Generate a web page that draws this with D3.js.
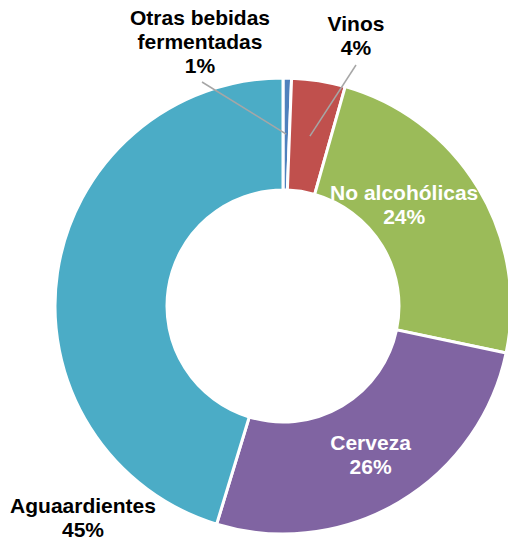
<!DOCTYPE html>
<html>
<head>
<meta charset="utf-8">
<script src="https://cdn.jsdelivr.net/npm/d3@7"></script>
<style>
  body { margin: 0; background: #fff; }
  text { font-family: "Liberation Sans", Arial, sans-serif; font-weight: bold; font-size: 21px; }
</style>
</head>
<body>
<script>
w = 508;
h = 540;

// data
categories = ['Otras bebidas\nfermentadas', 'Vinos', 'No alcohólicas', 'Cerveza', 'Aguaardientes'];
shares = [0.6, 3.8, 23.9, 26.4, 45.3];
pctLabels = ['1%', '4%', '24%', '26%', '45%'];

colors = ['#4f81bd', '#c0504d', '#9bbb59', '#8064a2', '#4bacc6'];

cx = 283;
cy = 306;
outerR = 228;
innerR = 116;

// where each label goes: outside ones get a leader line, inside ones sit on the centroid
labelLayout = [
  { out: true, x: 200, y: 25, lx: 202, ly: 82 },
  { out: true, x: 356, y: 31, lx: 356, ly: 65 },
  { out: false, dx: -26, dy: -13 },
  { out: false, dx: 0, dy: 0 },
  { out: true, x: 83, y: 513 }
];

let data = categories.map((c, i) => ({ name: c, value: shares[i], pct: pctLabels[i], i: i }));

let pie = d3.pie()
  .sort(null)
  .value(d => d.value);

let arc = d3.arc()
  .innerRadius(innerR)
  .outerRadius(outerR);

svg = d3.select('body')
  .append('svg')
  .attr('width', w)
  .attr('height', h);

let g = svg.append('g')
  .attr('transform', `translate(${cx}, ${cy})`);

let arcs = pie(data);

g.selectAll('path')
  .data(arcs)
  .enter()
  .append('path')
  .attr('d', arc)
  .attr('fill', d => colors[d.data.i])
  .attr('stroke', '#fff')
  .attr('stroke-width', 3);

// leader lines
arcs.forEach(d => {
  let L = labelLayout[d.data.i];
  if (!L.out || L.lx === undefined) return;
  let c = arc.centroid(d);
  svg.append('line')
    .attr('x1', cx + c[0])
    .attr('y1', cy + c[1])
    .attr('x2', L.lx)
    .attr('y2', L.ly)
    .attr('stroke', '#a6a6a6')
    .attr('stroke-width', 1.5);
});

// labels
arcs.forEach(d => {
  let L = labelLayout[d.data.i];
  let lines = d.data.name.split('\n').concat([d.data.pct]);
  let x, y, fill;
  if (L.out) {
    x = L.x;
    y = L.y;
    fill = '#000';
  } else {
    let c = arc.centroid(d);
    x = cx + c[0] + L.dx;
    y = cy + c[1] - 4 + L.dy;
    fill = '#fff';
  }
  let t = svg.append('text')
    .attr('text-anchor', 'middle')
    .attr('fill', fill);
  lines.forEach((s, k) => {
    t.append('tspan')
      .attr('x', x)
      .attr('y', y + k * 24)
      .text(s);
  });
});
</script>
</body>
</html>
